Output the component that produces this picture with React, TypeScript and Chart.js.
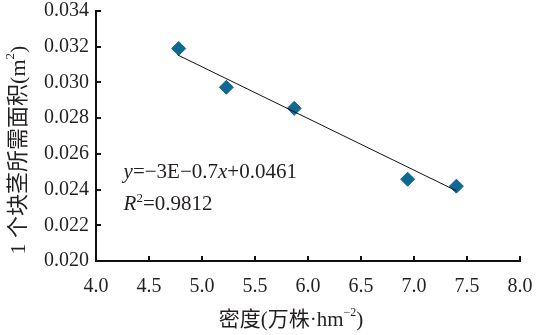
import React, { useEffect, useRef } from 'react';
import { Chart, registerables } from 'chart.js';

Chart.register(...registerables);

// Data
const densityX = [4.78, 5.23, 5.87, 6.94, 7.4];
const areaPerTuberY = [0.0319, 0.02973, 0.02855, 0.02458, 0.02419];
const trendX = [4.77, 7.4];
const trendY = [0.03154, 0.02393];
const xTickValues = [4.0, 4.5, 5.0, 5.5, 6.0, 6.5, 7.0, 7.5, 8.0];
const yTickValues = [0.02, 0.022, 0.024, 0.026, 0.028, 0.03, 0.032, 0.034];
const equationLine1 = ['y', '=−3E−0.7', 'x', '+0.0461'];
const equationLine2 = ['R', '2', '=0.9812'];
const xTitleParts = ['密度(万株·hm', '−2', ')'];
const yTitleParts = ['1 个块茎所需面积(m', '2', ')'];

const TEXT = '#231f20';
const SERIF = "'Liberation Serif', 'Noto Sans CJK SC', serif";
const MARK = '#0e6891';

type Run = { text: string; font: string; dy?: number };

function drawRuns(ctx: CanvasRenderingContext2D, runs: Run[], x: number, y: number, align: 'left' | 'center') {
  let total = 0;
  for (const r of runs) {
    ctx.font = r.font;
    total += ctx.measureText(r.text).width;
  }
  let cx = align === 'center' ? x - total / 2 : x;
  ctx.textAlign = 'left';
  for (const r of runs) {
    ctx.font = r.font;
    ctx.fillText(r.text, cx, y + (r.dy || 0));
    cx += ctx.measureText(r.text).width;
  }
}

const decorPlugin = {
  id: 'decor',
  afterDraw(chart: any) {
    const ctx: CanvasRenderingContext2D = chart.ctx;
    const xs = chart.scales.x;
    const ys = chart.scales.y;
    const area = chart.chartArea;
    ctx.save();
    // inside tick marks
    ctx.strokeStyle = '#111';
    ctx.lineWidth = 2;
    ctx.beginPath();
    for (const v of xTickValues) {
      const px = Math.round(xs.getPixelForValue(v));
      ctx.moveTo(px, area.bottom);
      ctx.lineTo(px, area.bottom - 5);
    }
    for (const v of yTickValues) {
      const py = Math.round(ys.getPixelForValue(v));
      ctx.moveTo(area.left, py);
      ctx.lineTo(area.left + 5, py);
    }
    ctx.stroke();

    ctx.fillStyle = TEXT;
    ctx.textBaseline = 'alphabetic';
    const ex = xs.getPixelForValue(4.26);
    drawRuns(ctx, [
      { text: equationLine1[0], font: `italic 21px ${SERIF}` },
      { text: equationLine1[1], font: `21px ${SERIF}` },
      { text: equationLine1[2], font: `italic 21px ${SERIF}` },
      { text: equationLine1[3], font: `21px ${SERIF}` },
    ], ex, ys.getPixelForValue(0.02465), 'left');
    drawRuns(ctx, [
      { text: equationLine2[0], font: `italic 21px ${SERIF}` },
      { text: equationLine2[1], font: `13px ${SERIF}`, dy: -8 },
      { text: equationLine2[2], font: `21px ${SERIF}` },
    ], ex, ys.getPixelForValue(0.02288), 'left');

    // x title
    ctx.textBaseline = 'middle';
    drawRuns(ctx, [
      { text: xTitleParts[0], font: `21px ${SERIF}` },
      { text: xTitleParts[1], font: `12px ${SERIF}`, dy: -7 },
      { text: xTitleParts[2], font: `21px ${SERIF}` },
    ], area.left + 195, 320, 'center');

    // y title
    ctx.translate(19, area.bottom - 111);
    ctx.rotate(-Math.PI / 2);
    drawRuns(ctx, [
      { text: yTitleParts[0], font: `22px ${SERIF}` },
      { text: yTitleParts[1], font: `13px ${SERIF}`, dy: -8 },
      { text: yTitleParts[2], font: `22px ${SERIF}` },
    ], 0, 0, 'center');
    ctx.restore();
  },
};

export default function App() {
  const ref = useRef<HTMLCanvasElement>(null);
  useEffect(() => {
    if (!ref.current) return;
    const points = densityX.map((x, i) => ({ x, y: areaPerTuberY[i] }));
    const trend = trendX.map((x, i) => ({ x, y: trendY[i] }));
    const chart = new Chart(ref.current, {
      type: 'scatter',
      data: {
        datasets: [
          {
            type: 'line',
            data: trend,
            borderColor: '#111',
            borderWidth: 1,
            pointRadius: 0,
            showLine: true,
            fill: false,
          } as any,
          {
            data: points,
            pointStyle: 'rectRot',
            pointRadius: 7,
            backgroundColor: MARK,
            borderColor: MARK,
            borderWidth: 1,
          },
        ],
      },
      options: {
        animation: false,
        responsive: false,
        layout: { padding: { top: 11, right: 18, left: 0, bottom: 0 } },
        plugins: { legend: { display: false }, tooltip: { enabled: false } },
        scales: {
          x: {
            type: 'linear',
            min: 4,
            max: 8,
            afterBuildTicks: (s: any) => { s.ticks = xTickValues.map((value) => ({ value })); },
            afterFit: (s: any) => { s.height = 74; s.paddingLeft = 0; s.paddingRight = 0; },
            grid: { display: false, drawTicks: false },
            border: { display: true, color: '#111', width: 2 },
            ticks: {
              autoSkip: false,
              maxRotation: 0,
              padding: 14,
              color: TEXT,
              font: { family: SERIF, size: 20 },
              callback: (v: any) => Number(v).toFixed(1),
            },
          },
          y: {
            type: 'linear',
            min: 0.02,
            max: 0.034,
            afterBuildTicks: (s: any) => { s.ticks = yTickValues.map((value) => ({ value })); },
            afterFit: (s: any) => { s.width = 96; s.paddingTop = 0; s.paddingBottom = 0; },
            grid: { display: false, drawTicks: false },
            border: { display: true, color: '#111', width: 2 },
            ticks: {
              autoSkip: false,
              padding: 7,
              color: TEXT,
              font: { family: SERIF, size: 20 },
              callback: (v: any) => Number(v).toFixed(3),
            },
          },
        },
      },
      plugins: [decorPlugin],
    });
    return () => chart.destroy();
  }, []);
  return (
    <div style={{ position: 'fixed', left: 0, top: 0, width: 538, height: 335, background: '#fff' }}>
      <canvas ref={ref} width={538} height={335} style={{ display: 'block' }} />
    </div>
  );
}
